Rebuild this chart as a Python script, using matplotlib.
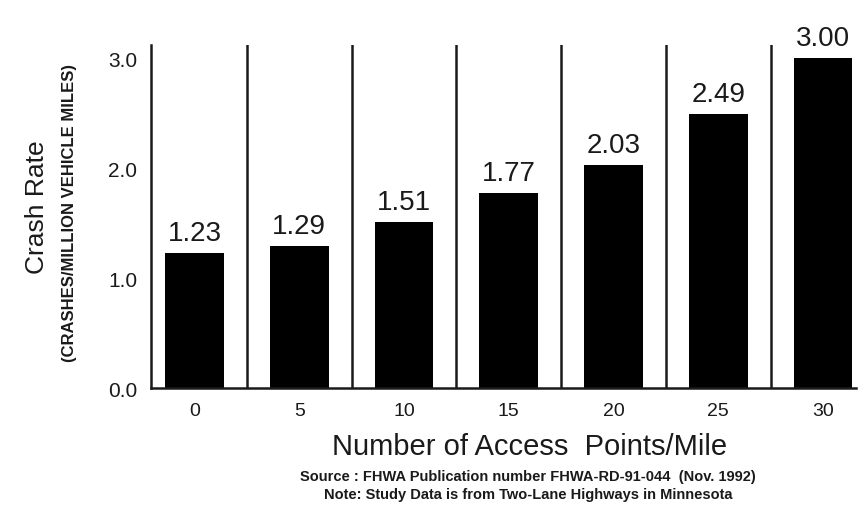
import matplotlib
matplotlib.use("Agg")
import matplotlib.pyplot as plt

# Crash rate by access point density (two-lane highways, Minnesota)
accessPoints = ["0", "5", "10", "15", "20", "25", "30"]
crashRates = [1.23, 1.29, 1.51, 1.77, 2.03, 2.49, 3.00]
yTicks = [0.0, 1.0, 2.0, 3.0]

plt.rcParams['font.family'] = ['Liberation Sans', 'DejaVu Sans']
inkColor = '#1a1a1a'

fig = plt.figure(figsize=(8.67, 5.06), dpi=100)
ax = fig.add_axes([0.1742, 0.2312, 0.8131, 0.6779])

xPos = list(range(len(accessPoints)))
bars = ax.bar(xPos, crashRates, width=0.56, color='black', zorder=2)

# vertical separators between the groups
for k in range(len(accessPoints) - 1):
    ax.axvline(k + 0.5, ymin=0, ymax=1, color=inkColor, linewidth=1.8, zorder=1)

for rect, val in zip(bars, crashRates):
    ax.annotate(
        f"{val:.2f}",
        xy=(rect.get_x() + rect.get_width() / 2, rect.get_height()),
        xytext=(0, 5),
        textcoords='offset points',
        ha='center',
        va='bottom',
        fontsize=20,
        color=inkColor
    )

ax.set_xlim(-0.415, 6.315)
ax.set_ylim(0, 3.12)

ax.set_xticks(xPos)
ax.set_xticklabels(accessPoints, fontsize=14, color=inkColor)
ax.set_yticks(yTicks)
ax.set_yticklabels([f"{t:.1f}" for t in yTicks], fontsize=15, color=inkColor)
ax.tick_params(axis='both', length=0)
ax.tick_params(axis='x', pad=10)
ax.tick_params(axis='y', pad=10)

for side in ['top', 'right']:
    ax.spines[side].set_visible(False)
for side in ['left', 'bottom']:
    ax.spines[side].set_linewidth(1.8)
    ax.spines[side].set_color(inkColor)

# axis titles and notes placed in figure pixels
W, H = 867, 506
fig.text(37 / W, 1 - 207 / H, "Crash Rate", rotation=90, ha='center', va='center',
         fontsize=19, color=inkColor)
fig.text(70 / W, 1 - 213 / H, "(CRASHES/MILLION VEHICLE MILES)", rotation=90,
         ha='center', va='center', fontsize=12, fontweight='bold', color=inkColor)
fig.text(530 / W, 1 - 447 / H, "Number of Access  Points/Mile", ha='center', va='center',
         fontsize=21, color=inkColor)
fig.text(528 / W, 1 - 477 / H, "Source : FHWA Publication number FHWA-RD-91-044  (Nov. 1992)",
         ha='center', va='center', fontsize=10.5, fontweight='bold', color=inkColor)
fig.text(528 / W, 1 - 495 / H, "Note: Study Data is from Two-Lane Highways in Minnesota",
         ha='center', va='center', fontsize=10.5, fontweight='bold', color=inkColor)

fig.savefig("out.png", dpi=100, facecolor='white')
